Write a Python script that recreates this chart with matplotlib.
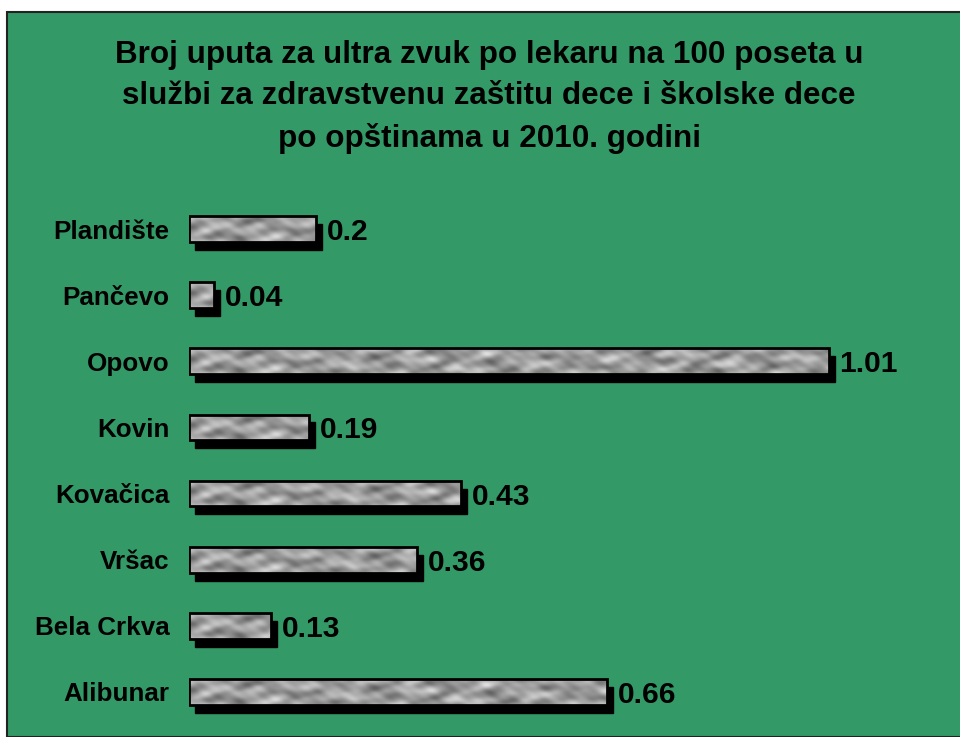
import numpy as np
import matplotlib.pyplot as plt
from matplotlib.patches import Rectangle

plt.rcParams['font.family'] = ['Liberation Sans', 'DejaVu Sans']

opstine = ['Plandište', 'Pančevo', 'Opovo', 'Kovin', 'Kovačica', 'Vršac', 'Bela Crkva', 'Alibunar']
vrednosti = [0.2, 0.04, 1.01, 0.19, 0.43, 0.36, 0.13, 0.66]
oznake = ['0.2', '0.04', '1.01', '0.19', '0.43', '0.36', '0.13', '0.66']

naslov = ('Broj uputa za ultra zvuk po lekaru na 100 poseta u\n'
          'službi za zdravstvenu zaštitu dece i školske dece\n'
          'po opštinama u 2010. godini')

W, H = 960, 737
fig = plt.figure(figsize=(W / 100, H / 100), dpi=100)
fig.patch.set_facecolor('white')

# green panel with thin dark border
panel = Rectangle((7 / W, 0), 1, 1 - 12 / H, transform=fig.transFigure,
                  facecolor='#339966', edgecolor='#222222', linewidth=1.5, zorder=-5)
fig.patches.append(panel)

fig.text(489 / W, 1 - 97 / H, naslov, ha='center', va='center',
         fontsize=22.6, fontweight='bold', linespacing=1.5)

# axes: x 189..949 px, y 196..725 px
ax = fig.add_axes([189 / W, 1 - 725 / H, 760 / W, 529 / H])
ax.axis('off')
ax.patch.set_visible(False)

# mottled stone-like gray texture (fixed waves, no randomness)
yy, xx = np.mgrid[0:30, 0:1000].astype(float)
waves = [(0.11, 0.35, 0.0, 0.5), (0.05, -0.22, 1.3, 0.45), (0.19, 0.12, 2.1, 0.3),
         (0.027, 0.41, 0.7, 0.4), (0.31, -0.5, 3.0, 0.2), (0.073, 0.09, 4.2, 0.35),
         (0.14, -0.37, 5.1, 0.25)]
tex = np.zeros_like(xx)
for kx, ky, ph, a in waves:
    tex += a * np.sin(kx * xx + ky * yy + ph)
tex += 0.4 * np.sin(0.09 * xx + 1.5 * np.sin(0.3 * yy + 0.04 * xx))
tex = (tex - tex.min()) / (tex.max() - tex.min())
tex = 0.38 + tex * 0.5

bh = 0.39
dx, dy = 0.0095, 0.12
for i, (v, lab) in enumerate(zip(vrednosti, oznake)):
    shadow = Rectangle((dx, i - bh / 2 + dy), v, bh, facecolor='black',
                       edgecolor='black', linewidth=1, zorder=1)
    ax.add_patch(shadow)
    bar = Rectangle((0, i - bh / 2), v, bh, facecolor='none',
                    edgecolor='black', linewidth=2, zorder=3)
    ax.add_patch(bar)
    ncols = max(2, int(v / 1.2 * 1000))
    im = ax.imshow(tex[:, :ncols], cmap='gray', vmin=0, vmax=1, aspect='auto',
                   extent=(0, v, i + bh / 2, i - bh / 2), zorder=2,
                   interpolation='bilinear')
    clip = Rectangle((0, i - bh / 2), v, bh, transform=ax.transData)
    im.set_clip_path(clip)
    ax.annotate(lab, (v + dx, i), xytext=(3.5, 0), textcoords='offset points',
                ha='left', va='center_baseline', fontsize=21.6, fontweight='bold')
    ax.annotate(opstine[i], (0, i), xytext=(-14, 0), textcoords='offset points',
                ha='right', va='center_baseline', fontsize=18.7, fontweight='bold')

ax.set_xlim(0, 1.2)
ax.set_ylim(len(opstine) - 0.5, -0.5)

fig.savefig('out.png', dpi=100, facecolor=fig.get_facecolor())
